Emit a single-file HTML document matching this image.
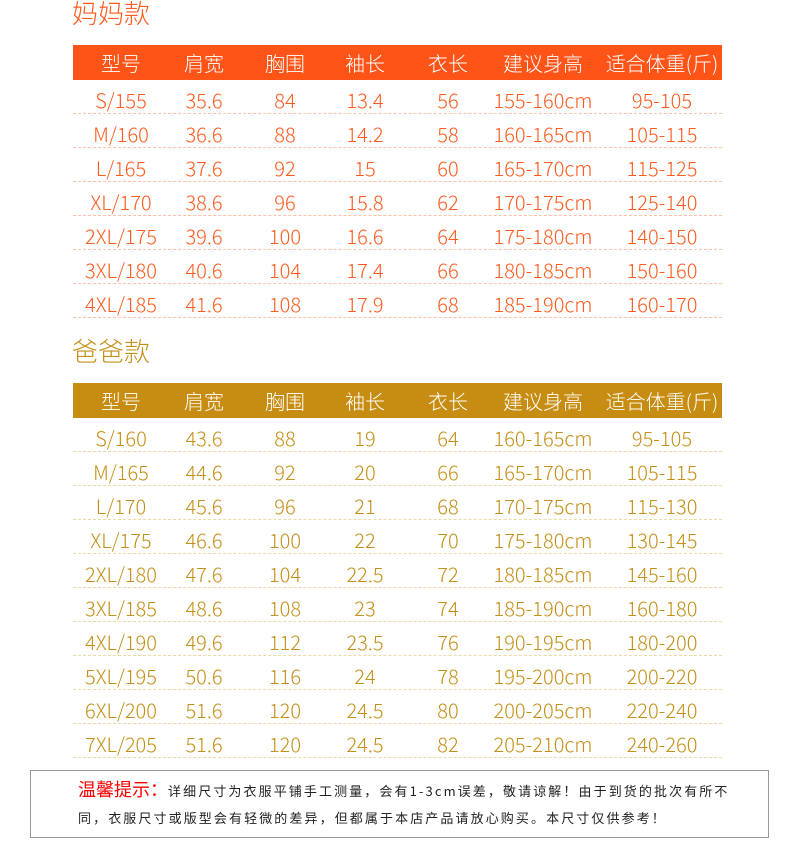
<!DOCTYPE html>
<html><head><meta charset="utf-8"><style>
*{margin:0;padding:0;box-sizing:border-box}
body{width:790px;height:850px;background:#fff;position:relative;overflow:hidden;font-family:"Noto Sans CJK SC","Liberation Sans",sans-serif;font-weight:300}
.t{position:absolute;font-size:26px;left:72px}
.h{position:absolute;left:73px;width:649px;height:35px}
.r{position:absolute;left:73px;width:649px;height:34px}
.c{position:absolute;top:0;width:130px;margin-left:-65px;text-align:center;font-size:20px;line-height:34px;white-space:nowrap}
.h .c{color:#fff;line-height:35px;font-size:20px;top:0}
.m .c{color:#ff5a1e}.d .c{color:#c48f17}
.m.r{border-bottom:1px dashed #ffc0a8}.d.r{border-bottom:1px dashed #ecd9a8}
.box{position:absolute;left:30px;top:770px;width:739px;height:68px;border:1px solid #999;font-size:13px;letter-spacing:2.1px;color:#222;padding:5px 0 0 47px;line-height:27px;font-weight:400;white-space:nowrap}
</style></head><body>
<div class="t" style="top:-6px;color:#ff5a1e">妈妈款</div>
<div class="t" style="top:332px;color:#c48f17">爸爸款</div>
<div id="a"></div>
<div class="box"><span style="color:#f00;font-size:18px;letter-spacing:0">温馨提示：</span>详细尺寸为衣服平铺手工测量，会有1-3cm误差，敬请谅解！由于到货的批次有所不<br>同，衣服尺寸或版型会有轻微的差异，但都属于本店产品请放心购买。本尺寸仅供参考！</div>
<script>
var xs=[48,131,212,292,375,470,589];
var hd=["型号","肩宽","胸围","袖长","衣长","建议身高","适合体重(斤)"];
var mom=[["S/155","35.6","84","13.4","56","155-160cm","95-105"],["M/160","36.6","88","14.2","58","160-165cm","105-115"],["L/165","37.6","92","15","60","165-170cm","115-125"],["XL/170","38.6","96","15.8","62","170-175cm","125-140"],["2XL/175","39.6","100","16.6","64","175-180cm","140-150"],["3XL/180","40.6","104","17.4","66","180-185cm","150-160"],["4XL/185","41.6","108","17.9","68","185-190cm","160-170"]];
var dad=[["S/160","43.6","88","19","64","160-165cm","95-105"],["M/165","44.6","92","20","66","165-170cm","105-115"],["L/170","45.6","96","21","68","170-175cm","115-130"],["XL/175","46.6","100","22","70","175-180cm","130-145"],["2XL/180","47.6","104","22.5","72","180-185cm","145-160"],["3XL/185","48.6","108","23","74","185-190cm","160-180"],["4XL/190","49.6","112","23.5","76","190-195cm","180-200"],["5XL/195","50.6","116","24","78","195-200cm","200-220"],["6XL/200","51.6","120","24.5","80","200-205cm","220-240"],["7XL/205","51.6","120","24.5","82","205-210cm","240-260"]];
var h="";
function row(cls,top,cells,bg){h+='<div class="'+cls+'" style="top:'+top+'px;'+(bg?'background:'+bg:'')+'">';cells.forEach(function(c,i){h+='<div class="c" style="left:'+xs[i]+'px;">'+c+'</div>'});h+='</div>';}
row("h",45,hd,"#ff5418");
mom.forEach(function(r,i){row("r m",80+i*34,r.map(function(x){return '<span style="position:relative;top:3px">'+x+'</span>'}))});
row("h",383,hd,"#c78c12");
dad.forEach(function(r,i){row("r d",418+i*34,r.map(function(x){return '<span style="position:relative;top:3px">'+x+'</span>'}))});
document.getElementById("a").innerHTML=h;
</script>
</body></html>
